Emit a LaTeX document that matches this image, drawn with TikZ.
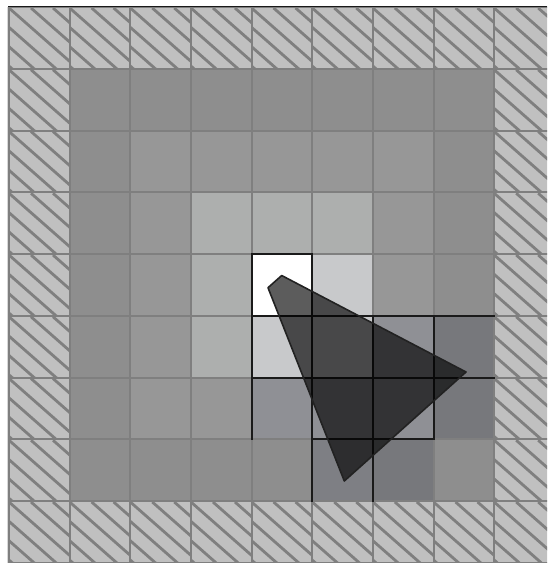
\documentclass[tikz,border=0pt]{standalone}
\usetikzlibrary{calc}
\definecolor{hatchbg}{HTML}{C0C0C0}
\definecolor{hatchln}{HTML}{7F7F7F}
\definecolor{gridc}{HTML}{7F7F7F}
\definecolor{ringA}{HTML}{8E8E8E}
\definecolor{ringB}{HTML}{979797}
\definecolor{innerc}{HTML}{ADAFAE}
\definecolor{lightc}{HTML}{C8C9CB}
\definecolor{bluegr}{HTML}{8F9095}
\definecolor{darkc}{HTML}{77787C}
\definecolor{midc}{HTML}{7E7F84}
\definecolor{blk}{HTML}{1A1A1A}
\definecolor{triedge}{HTML}{222222}
\newcommand\cellfill[3]{\fill[#3] ({9+#1*60.65},{7+#2*61.75}) rectangle ++(60.65,61.75);}
\tikzset{
  hatchl/.style={draw=hatchln, line width=1.4pt},
  gridl/.style={draw=gridc, line width=1pt},
  blackl/.style={draw=blk, line width=1pt, line cap=rect},
  tri/.style={draw=triedge, line width=0.8pt, line join=round, fill=black, fill opacity=0.64}
}
\begin{document}
\begin{tikzpicture}[x=0.5pt,y=-0.5pt]
\useasboundingbox (0,0) rectangle (547,563);
\clip (0,0) rectangle (547,563);
\fill[white] (0,0) rectangle (547,563);
% hatched border background
\fill[hatchbg] (9,7) rectangle (554.85,562.75);
\foreach \c in {0,...,8}{\foreach \r in {0,...,8}{
  \pgfmathtruncatemacro{\isb}{(\c==0)||(\c==8)||(\r==0)||(\r==8)}
  \ifnum\isb=1
  \begin{scope}
    \clip ({9+\c*60.65},{7+\r*61.75}) rectangle ++(60.65,61.75);
    \foreach \k in {-3,...,2}{
      \draw[hatchl] ({9+\c*60.65+\k*22},{7+\r*61.75+1}) -- ++(80,70.4);
    }
  \end{scope}
  \fi
}}
% rings
\fill[ringA] (69.65,68.75) rectangle (494.2,501);
\fill[ringB] (130.3,130.5) rectangle (433.55,439.25);
\fill[innerc] (190.95,192.25) rectangle (372.9,377.5);
% special cells
\cellfill{4}{4}{white}
\cellfill{5}{4}{lightc}
\cellfill{4}{5}{lightc}
\cellfill{5}{5}{lightc}
\cellfill{6}{5}{bluegr}
\cellfill{4}{6}{bluegr}
\cellfill{5}{6}{bluegr}
\cellfill{6}{6}{bluegr}
\cellfill{7}{5}{darkc}
\cellfill{7}{6}{darkc}
\cellfill{5}{7}{midc}
\cellfill{6}{7}{darkc}
% grid
\foreach \i in {0,...,9}{
  \draw[gridl] ({9+\i*60.65},7) -- ({9+\i*60.65},562.75);
  \draw[gridl] (9,{7+\i*61.75}) -- (554.85,{7+\i*61.75});
}
% black borders
\draw[blackl] (251.6,254) -- (312.25,254);
\draw[blackl] (251.6,315.75) -- (494.2,315.75);
\draw[blackl] (251.6,377.5) -- (494.2,377.5);
\draw[blackl] (312.25,439.25) -- (433.55,439.25);
\draw[blackl] (251.6,254) -- (251.6,439.25);
\draw[blackl] (312.25,254) -- (312.25,501);
\draw[blackl] (372.9,315.75) -- (372.9,501);
\draw[blackl] (433.55,315.75) -- (433.55,439.25);
% triangle
\draw[tri] (268,287.7) -- (281.7,275.5) -- (466,372) -- (344.3,481) -- cycle;
% edges
\draw[draw=blk, line width=0.6pt] (8,6.2) -- (547,6.2);
\draw[draw={rgb,255:red,216;green,216;blue,216}, line width=0.5pt] (7.6,6.5) -- (7.6,563);
\end{tikzpicture}
\end{document}
